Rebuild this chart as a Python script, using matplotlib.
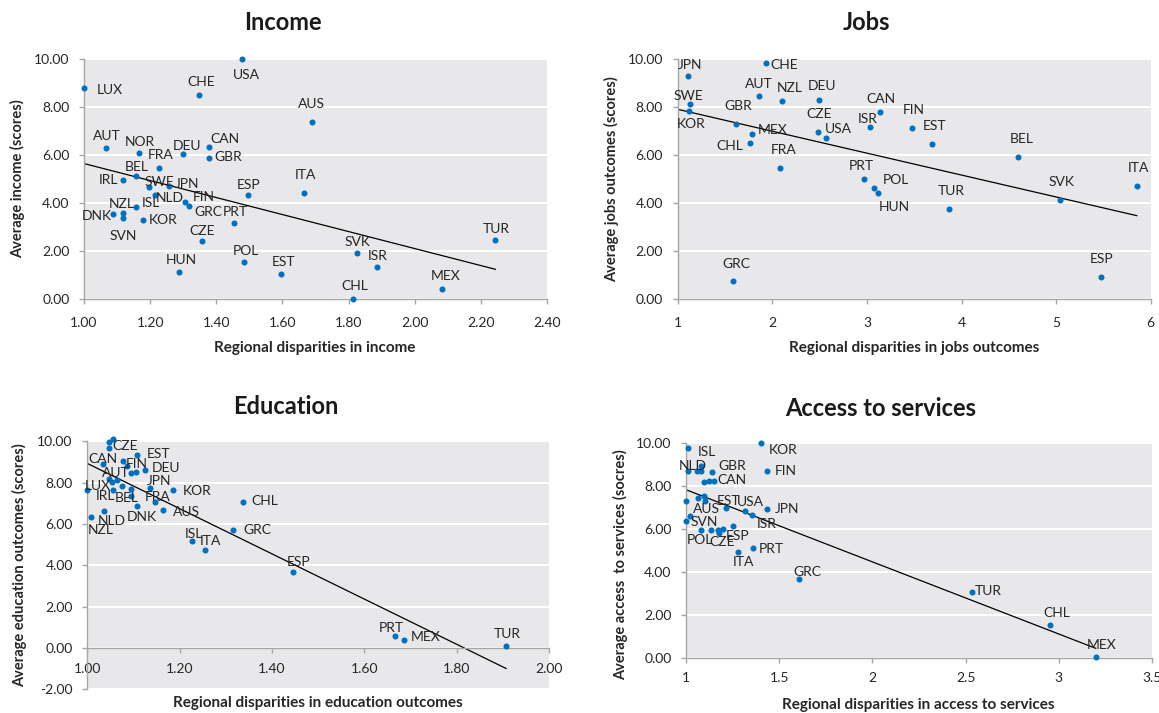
import numpy as np
import matplotlib
matplotlib.use("Agg")
import matplotlib.pyplot as plt
from matplotlib.ticker import FormatStrFormatter, FuncFormatter

plt.rcParams['font.family'] = ['Lato', 'DejaVu Sans']

W, H = 1159, 713

# ---------------- Income ----------------
income_codes = ["USA", "LUX", "CHE", "AUS", "AUT", "NOR", "DEU", "CAN", "GBR", "FRA",
                "BEL", "IRL", "SWE", "JPN", "NLD", "ITA", "ESP", "FIN", "GRC", "ISL",
                "NZL", "SVN", "DNK", "KOR", "PRT", "CZE", "POL", "HUN", "EST", "CHL",
                "SVK", "ISR", "MEX", "TUR"]
income_disp = [1.478, 1.00, 1.347, 1.688, 1.066, 1.167, 1.298, 1.378, 1.377, 1.227,
               1.156, 1.119, 1.197, 1.257, 1.215, 1.664, 1.496, 1.305, 1.317, 1.156,
               1.119, 1.119, 1.089, 1.179, 1.455, 1.357, 1.485, 1.287, 1.596, 1.814,
               1.825, 1.885, 2.084, 2.244]
income_avg = [10.00, 8.81, 8.50, 7.38, 6.30, 6.09, 6.03, 6.35, 5.89, 5.48,
              5.12, 4.96, 4.69, 4.70, 4.34, 4.44, 4.34, 4.04, 3.88, 3.83,
              3.58, 3.37, 3.54, 3.30, 3.16, 2.44, 1.57, 1.15, 1.04, 0.02,
              1.91, 1.34, 0.43, 2.48]

# ---------------- Jobs ----------------
jobs_codes = ["JPN", "CHE", "AUT", "NZL", "DEU", "SWE", "KOR", "CAN", "GBR", "ISR",
              "CZE", "MEX", "USA", "CHL", "FRA", "PRT", "POL", "HUN", "GRC", "FIN",
              "EST", "BEL", "ITA", "SVK", "TUR", "ESP"]
jobs_disp = [1.106, 1.930, 1.863, 2.099, 2.495, 1.134, 1.116, 3.135, 1.613, 3.029,
             2.480, 1.786, 2.572, 1.763, 2.083, 2.966, 3.079, 3.114, 1.589, 3.476,
             3.683, 4.601, 5.853, 5.045, 3.866, 5.474]
jobs_avg = [9.28, 9.85, 8.46, 8.25, 8.29, 8.11, 7.85, 7.81, 7.28, 7.17,
            6.96, 6.87, 6.71, 6.50, 5.48, 5.02, 4.62, 4.42, 0.75, 7.12,
            6.45, 5.94, 4.71, 4.13, 3.77, 0.94]

# ---------------- Education ----------------
edu_codes = ["LUX", "NZL", "NLD", "CAN", "", "", "CZE", "EST", "", "FIN",
             "", "", "DEU", "AUT", "", "", "", "IRL", "", "JPN",
             "KOR", "BEL", "FRA", "DNK", "AUS", "ISL", "ITA", "GRC", "CHL", "ESP",
             "PRT", "MEX", "TUR"]
edu_disp = [1.000, 1.007, 1.036, 1.035, 1.046, 1.055, 1.047, 1.107, 1.077, 1.087,
            1.095, 1.105, 1.124, 1.047, 1.054, 1.065, 1.076, 1.055, 1.094, 1.136,
            1.186, 1.094, 1.146, 1.107, 1.165, 1.226, 1.256, 1.316, 1.337, 1.446,
            1.666, 1.687, 1.907]
edu_avg = [7.64, 6.32, 6.63, 8.92, 9.98, 10.10, 9.66, 9.32, 9.03, 8.79,
           8.48, 8.53, 8.60, 8.19, 8.03, 8.11, 7.82, 7.64, 7.71, 7.73,
           7.64, 7.34, 7.05, 6.87, 6.68, 5.19, 4.76, 5.72, 7.05, 3.68,
           0.58, 0.40, 0.10]

# ---------------- Access to services ----------------
srv_codes = ["ISL", "KOR", "NLD", "", "", "", "GBR", "FIN", "", "",
             "CAN", "", "", "", "AUS", "EST", "USA", "ISR", "JPN", "",
             "SVN", "POL", "", "", "CZE", "", "ESP", "ITA", "PRT", "GRC",
             "TUR", "CHL", "MEX"]
srv_disp = [1.012, 1.401, 1.012, 1.059, 1.080, 1.080, 1.141, 1.435, 1.095, 1.122,
            1.152, 1.000, 1.063, 1.095, 1.100, 1.215, 1.315, 1.354, 1.435, 1.000,
            1.020, 1.082, 1.134, 1.173, 1.178, 1.200, 1.254, 1.281, 1.361, 1.606,
            2.534, 2.953, 3.198]
srv_avg = [9.77, 10.02, 8.71, 8.72, 8.71, 8.94, 8.66, 8.72, 8.18, 8.26,
           8.26, 7.32, 7.43, 7.54, 7.32, 6.97, 6.86, 6.66, 6.92, 6.39,
           6.60, 5.96, 5.96, 5.96, 5.80, 6.00, 6.13, 4.92, 5.10, 3.67,
           3.06, 1.51, 0.05]

# label offsets in pixels (right, down) from each marker
income_off = {"USA": (4, 16), "LUX": (26, 2), "CHE": (2, -13), "AUS": (0, -18),
              "AUT": (1, -12), "NOR": (1, -11), "DEU": (4, -8), "CAN": (16, -8),
              "GBR": (20, -1), "FRA": (2, -13), "BEL": (1, -9), "IRL": (-15, 0),
              "SWE": (10, -5), "JPN": (18, -2), "NLD": (15, 3), "FIN": (19, -5),
              "GRC": (20, 6), "PRT": (1, -11), "ISL": (15, -4), "NZL": (-2, -9),
              "DNK": (-17, 2), "SVN": (0, 18), "KOR": (20, 0), "ESP": (1, -10),
              "ITA": (2, -18), "CZE": (0, -10), "POL": (1, -11), "HUN": (2, -12),
              "EST": (2, -12), "CHL": (2, -13), "SVK": (1, -11), "ISR": (1, -11),
              "MEX": (3, -13), "TUR": (1, -11)}
jobs_off = {"JPN": (2, -11), "CHE": (19, 2), "AUT": (-1, -12), "NZL": (8, -13),
            "DEU": (3, -14), "SWE": (-2, -8), "KOR": (2, 13), "GBR": (3, -18),
            "MEX": (21, -4), "CHL": (-20, 3), "CZE": (1, -18), "USA": (12, -9),
            "CAN": (1, -13), "ISR": (-2, -8), "FRA": (3, -18), "PRT": (-2, -13),
            "POL": (22, -8), "HUN": (17, 14), "GRC": (3, -17), "FIN": (2, -18),
            "EST": (3, -18), "BEL": (3, -18), "ITA": (2, -18), "SVK": (1, -18),
            "TUR": (2, -18), "ESP": (1, -18)}
edu_off = {"LUX": (11, -4), "CAN": (-1, -5), "CZE": (16, -2), "EST": (22, -1),
           "FIN": (9, -2), "DEU": (21, -2), "AUT": (7, -6), "JPN": (9, -7),
           "KOR": (24, 1), "IRL": (-7, 6), "BEL": (-4, 2), "FRA": (3, -5),
           "DNK": (5, 11), "AUS": (23, 2), "NLD": (8, 10), "NZL": (10, 13),
           "ISL": (2, -7), "ITA": (5, -9), "GRC": (24, 0), "CHL": (22, -1),
           "ESP": (5, -10), "PRT": (-3, -8), "MEX": (21, -3), "TUR": (1, -12)}
srv_off = {"ISL": (19, 4), "KOR": (22, 7), "NLD": (5, -5), "GBR": (20, -6),
           "FIN": (19, 0), "CAN": (18, -1), "EST": (2, -7), "USA": (6, -9),
           "AUS": (2, 8), "JPN": (20, 0), "ISR": (15, 9), "SVN": (15, 6),
           "POL": (-1, 10), "CZE": (3, 9), "ESP": (4, 10), "ITA": (5, 10),
           "PRT": (18, 1), "GRC": (8, -7), "TUR": (16, -1), "CHL": (7, -12),
           "MEX": (6, -12)}

BG = "#E8E8EA"
DOT = "#0070C0"
SPINE = "#A6A6A6"
TXT = "#262626"
FS = 10

fig = plt.figure(figsize=(W / 100, H / 100), dpi=100)


def add_panel(l, r, t, b, codes, xs, ys, offs, xlim, ylim, xticks, yticks,
              xfmt, zero_axis=False, xpad=9.0, line_from_axis=False):
    ax = fig.add_axes([l / W, 1 - b / H, (r - l) / W, (b - t) / H])
    ax.set_facecolor(BG)
    ax.set_xlim(*xlim)
    ax.set_ylim(*ylim)
    ax.set_xticks(xticks)
    ax.set_yticks(yticks)
    ax.yaxis.set_major_formatter(FormatStrFormatter('%.2f'))
    ax.xaxis.set_major_formatter(xfmt)
    ax.grid(axis='y', color='white', lw=1.5)
    ax.set_axisbelow(True)
    for s in ('top', 'right'):
        ax.spines[s].set_visible(False)
    for s in ('left', 'bottom'):
        ax.spines[s].set_color(SPINE)
        ax.spines[s].set_linewidth(1.0)
    if zero_axis:
        ax.spines['bottom'].set_position(('data', 0))
    ax.tick_params(axis='both', colors=SPINE, labelcolor=TXT, labelsize=FS,
                   length=3.5, width=1.0, direction='out')
    ax.tick_params(axis='y', pad=7)
    ax.tick_params(axis='x', pad=xpad)

    xs = np.asarray(xs)
    ys = np.asarray(ys)
    slope, icpt = np.polyfit(xs, ys, 1)
    x0 = xlim[0] if line_from_axis else xs.min()
    xl = np.array([x0, xs.max()])
    ax.plot(xl, icpt + slope * xl, color='black', lw=0.9, zorder=2)

    ax.scatter(xs, ys, s=19, color=DOT, zorder=3, clip_on=False, linewidths=0)
    for c, x, y in zip(codes, xs, ys):
        if not c:
            continue
        dx, dy = offs.get(c, (0, -12))
        ax.annotate(c, (x, y), xytext=(dx, -dy), textcoords='offset pixels',
                    ha='center', va='center', fontsize=FS, color=TXT,
                    zorder=4, annotation_clip=False)
    return ax


add_panel(84, 547, 59, 299.3, income_codes, income_disp, income_avg, income_off,
          (1.0, 2.4), (0, 10), np.arange(1.0, 2.41, 0.2), np.arange(0, 10.1, 2),
          FormatStrFormatter('%.2f'))
add_panel(677.7, 1150.7, 59, 299.3, jobs_codes, jobs_disp, jobs_avg, jobs_off,
          (1, 6), (0, 10), np.arange(1, 7, 1), np.arange(0, 10.1, 2),
          FormatStrFormatter('%d'), line_from_axis=True)
add_panel(87.3, 549, 441.3, 689.3, edu_codes, edu_disp, edu_avg, edu_off,
          (1.0, 2.0), (-2, 10), np.arange(1.0, 2.01, 0.2), np.arange(-2, 10.1, 2),
          FormatStrFormatter('%.2f'), zero_axis=True, xpad=7.0)
add_panel(686, 1152, 443.3, 657.7, srv_codes, srv_disp, srv_avg, srv_off,
          (1, 3.5), (0, 10), np.arange(1, 3.51, 0.5), np.arange(0, 10.1, 2),
          FuncFormatter(lambda v, p: f"{v:g}"), xpad=7.0)

# panel titles
for txt, x, y in [("Income", 283, 22), ("Jobs", 866, 22),
                  ("Education", 286, 406), ("Access to services", 881, 408)]:
    fig.text(x / W, 1 - y / H, txt, ha='center', va='center', fontsize=17,
             fontweight='bold', color='#1a1a1a')

# axis titles
for txt, x, y in [("Regional disparities in income", 315, 348),
                  ("Regional disparities in jobs outcomes", 914, 348),
                  ("Regional disparities in education outcomes", 318, 703),
                  ("Regional disparities in access to services", 918, 705)]:
    fig.text(x / W, 1 - y / H, txt, ha='center', va='center', fontsize=11,
             fontweight='bold', color=TXT)
for txt, x, y in [("Average income (scores)", 18, 179),
                  ("Average jobs outcomes (scores)", 612, 179),
                  ("Average education outcomes (scores)", 20, 565),
                  ("Average access  to services (socres)", 621, 565)]:
    fig.text(x / W, 1 - y / H, txt, ha='center', va='center', fontsize=10.5,
             fontweight='bold', color=TXT, rotation=90)

fig.savefig("out.png", dpi=100)
